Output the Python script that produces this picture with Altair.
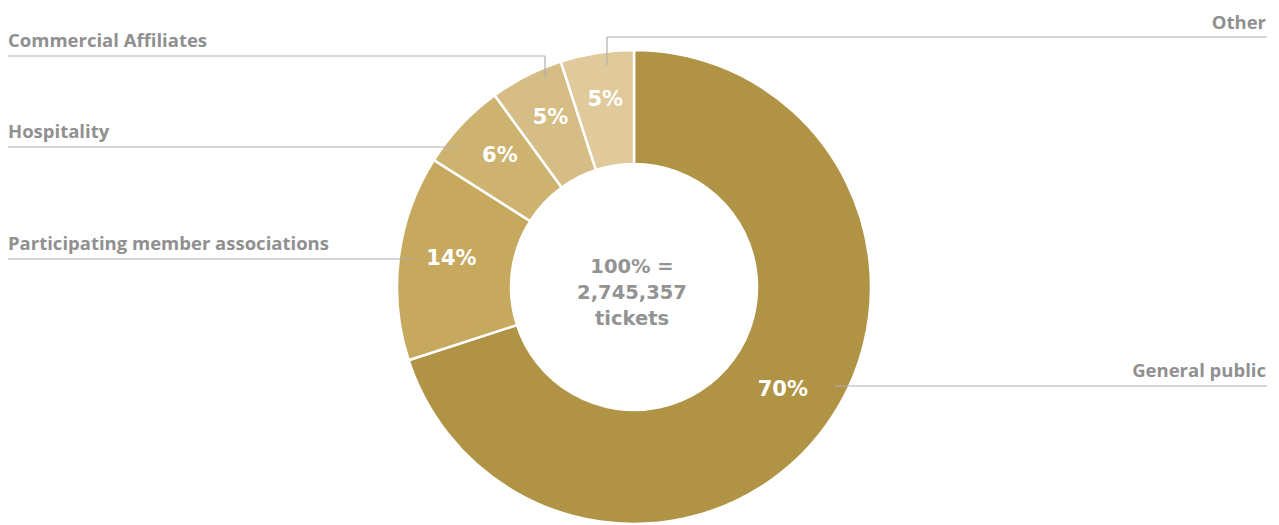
import altair as alt
import pandas as pd

# ---- data ----
categories = ["General public", "Participating member associations", "Hospitality",
              "Commercial Affiliates", "Other"]
shares = [70, 14, 6, 5, 5]
pct_labels = ["70%", "14%", "6%", "5%", "5%"]
colors = ["#B09345", "#C6A85E", "#CDB36F", "#D5BD85", "#E0CA9B"]
center_lines = ["100% =", "2,745,357", "tickets"]

# annotation layout (chart pixel space)
W, H = 1263, 517
CX, CY = 626, 279

df = pd.DataFrame({"category": categories, "share": shares,
                   "label": pct_labels, "order": list(range(len(categories)))})

leader_x1 = [599, 599, 537, 537, 452, 405, 827]
leader_y1 = [57, 29, 70, 48, 139, 251, 378]
leader_x2 = [599, 1259, 537, 0, 0, 0, 1259]
leader_y2 = [29, 29, 48, 48, 139, 251, 378]
leaders = pd.DataFrame({"x1": leader_x1, "y1": leader_y1, "x2": leader_x2, "y2": leader_y2})

left_names = ["Commercial Affiliates", "Hospitality", "Participating member associations"]
left_x = [0, 0, 0]
left_y = [39, 130, 242]
right_names = ["Other", "General public"]
right_x = [1258, 1258]
right_y = [21, 369]
left_df = pd.DataFrame({"name": left_names, "x": left_x, "y": left_y})
right_df = pd.DataFrame({"name": right_names, "x": right_x, "y": right_y})
center_df = pd.DataFrame({"t": center_lines, "x": [CX - 2] * 3, "y": [259, 285, 311]})

base = alt.Chart(df).encode(
    theta=alt.Theta("share:Q", stack=True),
    order=alt.Order("order:Q"),
)

arc = base.mark_arc(innerRadius=123, outerRadius=237, stroke="white",
                    strokeWidth=2.5).encode(
    color=alt.Color("category:N", scale=alt.Scale(domain=categories, range=colors),
                    legend=None),
    x=alt.value(CX), y=alt.value(CY),
)

pct = base.mark_text(radius=184, dy=-5, font="DejaVu Sans", fontWeight="bold", fontSize=21,
                     color="white", align="center", baseline="middle").encode(
    text="label:N", x=alt.value(CX), y=alt.value(CY),
)

rules = alt.Chart(leaders).mark_rule(color="#AFAFAF", strokeWidth=1.2).encode(
    x=alt.X("x1:Q", scale=None, axis=None), x2="x2:Q",
    y=alt.Y("y1:Q", scale=None, axis=None), y2="y2:Q",
)

left_txt = alt.Chart(left_df).mark_text(align="left", baseline="alphabetic",
                                        font="Open Sans", fontWeight="bold",
                                        fontSize=18.5, color="#909090").encode(
    x=alt.X("x:Q", scale=None, axis=None), y=alt.Y("y:Q", scale=None, axis=None),
    text="name:N",
)
right_txt = alt.Chart(right_df).mark_text(align="right", baseline="alphabetic",
                                          font="Open Sans", fontWeight="bold",
                                          fontSize=18.5, color="#909090").encode(
    x=alt.X("x:Q", scale=None, axis=None), y=alt.Y("y:Q", scale=None, axis=None),
    text="name:N",
)
center_txt = alt.Chart(center_df).mark_text(align="center", baseline="middle",
                                            font="DejaVu Sans", fontWeight="bold",
                                            fontSize=19.5, color="#939393").encode(
    x=alt.X("x:Q", scale=None, axis=None), y=alt.Y("y:Q", scale=None, axis=None),
    text="t:N",
)

chart = alt.layer(arc, pct, rules, left_txt, right_txt, center_txt).properties(
    width=W, height=H, padding=0, autosize=alt.AutoSizeParams(type="none"),
    background="white",
).configure_view(stroke=None)

chart.save("out.html", embed_options={"renderer": "svg", "actions": False})
